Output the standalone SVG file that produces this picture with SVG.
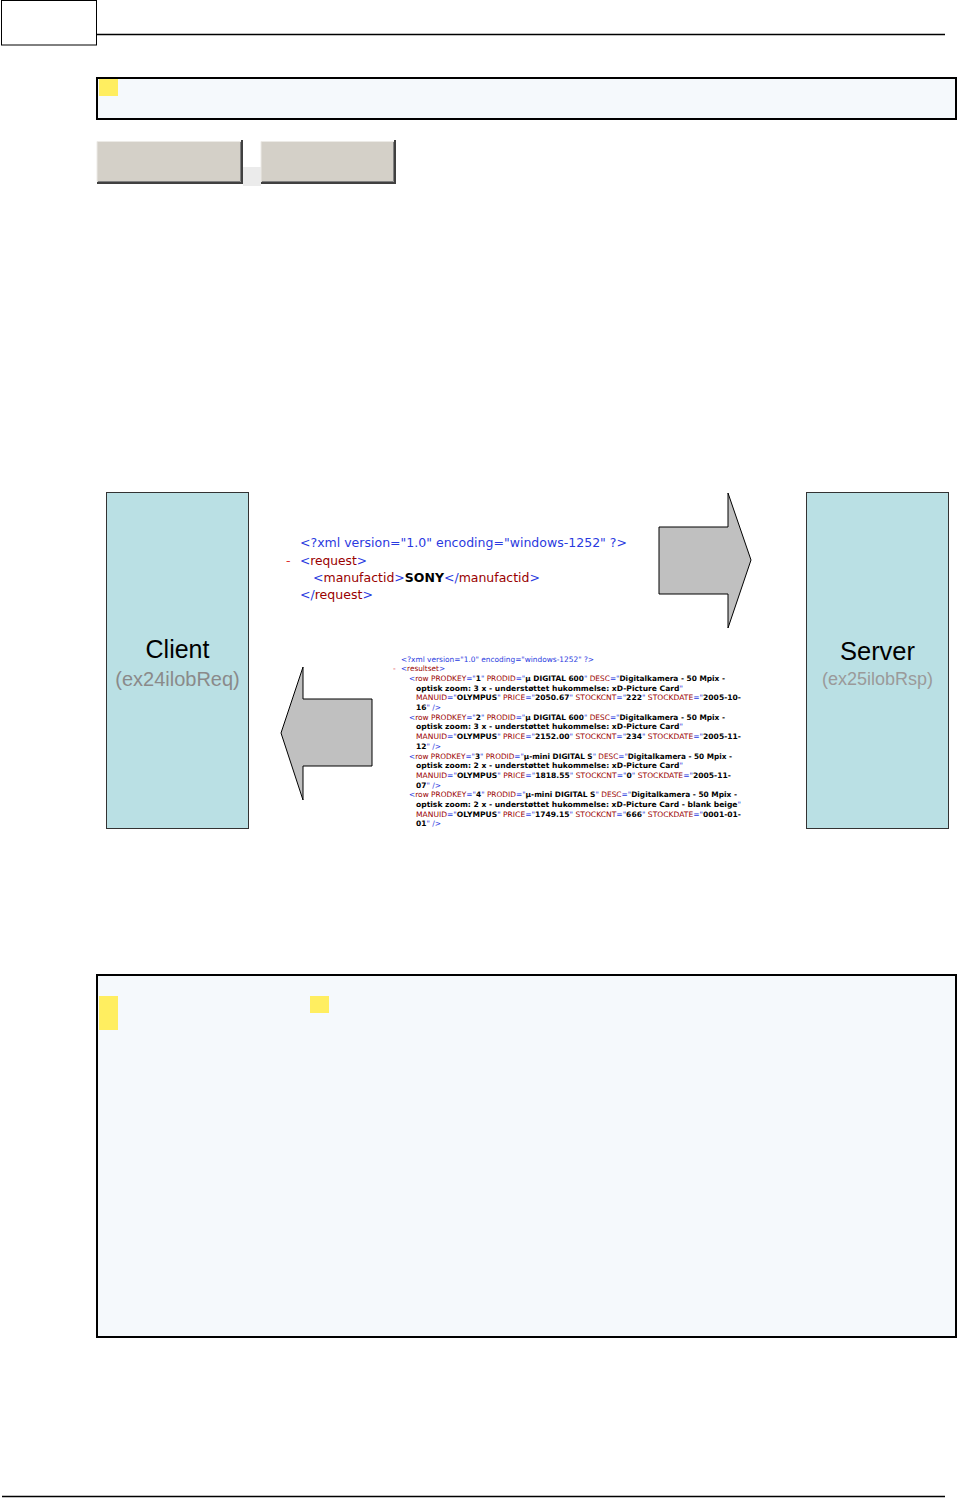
<svg xmlns="http://www.w3.org/2000/svg" width="966" height="1498" viewBox="0 0 966 1498">
<style>
.panel{fill:#F5F9FC;stroke:#000;stroke-width:2}
.hl{fill:#FFEE60}
.btn{fill:#D4D0C8}
.node{fill:#BAE0E4;stroke:#333;stroke-width:1}
.arrow{fill:#C0C0C0;stroke:#000;stroke-width:1;stroke-linejoin:miter}
.title{font-family:"Liberation Sans",Arial,sans-serif;fill:#000;text-anchor:middle}
.sub{font-family:"Liberation Sans",Arial,sans-serif;text-anchor:middle}
.xml{font-family:"DejaVu Sans",Verdana,sans-serif}
.b{fill:#2a3ae0}
.t{fill:#990000}
.x{fill:#000;font-weight:bold}
.d{fill:#e03030}
</style>
<rect width="966" height="1498" fill="#fff"/>
<g id="page-header">
<rect x="1.5" y="0.5" width="95" height="44.5" fill="#fff" stroke="#000" stroke-width="1"/>
<line x1="96" y1="34.5" x2="945" y2="34.5" stroke="#000" stroke-width="1.5"/>
</g>
<g id="top-box">
<rect class="panel" x="97" y="78" width="859" height="41"/>
<rect class="hl" x="99" y="79" width="19" height="17"/>
</g>
<g id="buttons">
<rect class="btn" x="97" y="141" width="145" height="41"/>
<path d="M97,181.5 V141.5 H241" fill="none" stroke="#ECEAE6" stroke-width="1"/>
<path d="M240.5,142 V181.5 H98" fill="none" stroke="#808080" stroke-width="1"/>
<path d="M242,140 V183 H97" fill="none" stroke="#404040" stroke-width="2"/>
<rect x="243" y="167" width="18" height="19" fill="#EBEBEB"/>
<rect class="btn" x="261" y="141" width="134" height="41"/>
<path d="M261,181.5 V141.5 H394" fill="none" stroke="#ECEAE6" stroke-width="1"/>
<path d="M393.5,142 V181.5 H262" fill="none" stroke="#808080" stroke-width="1"/>
<path d="M395,140 V183 H261" fill="none" stroke="#404040" stroke-width="2"/>
</g>
<g id="client">
<rect class="node" x="106.5" y="492.5" width="142" height="336"/>
<text class="title" x="177.5" y="658" font-size="25">Client</text>
<text class="sub" x="177.5" y="686" font-size="20" fill="#8a8a8a">(ex24ilobReq)</text>
</g>
<g id="server">
<rect class="node" x="806.5" y="492.5" width="142" height="336"/>
<text class="title" x="877.5" y="660" font-size="25.5">Server</text>
<text class="sub" x="877.5" y="685" font-size="18" fill="#9a9a9a">(ex25ilobRsp)</text>
</g>
<g id="connectors">
<polygon class="arrow" points="659,527 728,527 728,493 751,560 728,628 728,594 659,594"/>
<polygon class="arrow" points="372,699 303,699 303,667 281,733 303,800 303,766 372,766"/>
</g>
<g id="request-xml" class="xml" font-size="12.5">
<text x="300" y="547" textLength="327" lengthAdjust="spacingAndGlyphs" class="b">&lt;?xml version="1.0" encoding="windows-1252" ?&gt;</text>
<text x="286" y="564.5" class="d">-</text>
<text x="300" y="564.5" textLength="67" lengthAdjust="spacingAndGlyphs"><tspan class="b">&lt;</tspan><tspan class="t">request</tspan><tspan class="b">&gt;</tspan></text>
<text x="313" y="581.5" textLength="227" lengthAdjust="spacingAndGlyphs"><tspan class="b">&lt;</tspan><tspan class="t">manufactid</tspan><tspan class="b">&gt;</tspan><tspan class="x">SONY</tspan><tspan class="b">&lt;/</tspan><tspan class="t">manufactid</tspan><tspan class="b">&gt;</tspan></text>
<text x="300" y="598.5" textLength="73" lengthAdjust="spacingAndGlyphs"><tspan class="b">&lt;/</tspan><tspan class="t">request</tspan><tspan class="b">&gt;</tspan></text>
</g>
<g id="response-xml" class="xml" font-size="7.5">
<text x="401" y="661.5" textLength="193" lengthAdjust="spacingAndGlyphs" class="b">&lt;?xml version="1.0" encoding="windows-1252" ?&gt;</text>
<text x="393" y="671.2" class="d">-</text>
<text x="401" y="671.2" textLength="44" lengthAdjust="spacingAndGlyphs"><tspan class="b">&lt;</tspan><tspan class="t">resultset</tspan><tspan class="b">&gt;</tspan></text>

<text x="409" y="680.9" textLength="316" lengthAdjust="spacingAndGlyphs"><tspan class="b">&lt;</tspan><tspan class="t">row PRODKEY</tspan><tspan class="b">="</tspan><tspan class="x">1</tspan><tspan class="b">"</tspan><tspan class="t"> PRODID</tspan><tspan class="b">="</tspan><tspan class="x">µ DIGITAL 600</tspan><tspan class="b">"</tspan><tspan class="t"> DESC</tspan><tspan class="b">="</tspan><tspan class="x">Digitalkamera - 50 Mpix -</tspan></text>
<text x="416" y="690.6" textLength="267" lengthAdjust="spacingAndGlyphs"><tspan class="x">optisk zoom: 3 x - understøttet hukommelse: xD-Picture Card</tspan><tspan class="b">"</tspan></text>
<text x="416" y="700.3" textLength="325" lengthAdjust="spacingAndGlyphs"><tspan class="t">MANUID</tspan><tspan class="b">="</tspan><tspan class="x">OLYMPUS</tspan><tspan class="b">"</tspan><tspan class="t"> PRICE</tspan><tspan class="b">="</tspan><tspan class="x">2050.67</tspan><tspan class="b">"</tspan><tspan class="t"> STOCKCNT</tspan><tspan class="b">="</tspan><tspan class="x">222</tspan><tspan class="b">"</tspan><tspan class="t"> STOCKDATE</tspan><tspan class="b">="</tspan><tspan class="x">2005-10-</tspan></text>
<text x="416" y="710" textLength="25" lengthAdjust="spacingAndGlyphs"><tspan class="x">16</tspan><tspan class="b">" /&gt;</tspan></text>

<text x="409" y="719.7" textLength="316" lengthAdjust="spacingAndGlyphs"><tspan class="b">&lt;</tspan><tspan class="t">row PRODKEY</tspan><tspan class="b">="</tspan><tspan class="x">2</tspan><tspan class="b">"</tspan><tspan class="t"> PRODID</tspan><tspan class="b">="</tspan><tspan class="x">µ DIGITAL 600</tspan><tspan class="b">"</tspan><tspan class="t"> DESC</tspan><tspan class="b">="</tspan><tspan class="x">Digitalkamera - 50 Mpix -</tspan></text>
<text x="416" y="729.4" textLength="267" lengthAdjust="spacingAndGlyphs"><tspan class="x">optisk zoom: 3 x - understøttet hukommelse: xD-Picture Card</tspan><tspan class="b">"</tspan></text>
<text x="416" y="739.1" textLength="325" lengthAdjust="spacingAndGlyphs"><tspan class="t">MANUID</tspan><tspan class="b">="</tspan><tspan class="x">OLYMPUS</tspan><tspan class="b">"</tspan><tspan class="t"> PRICE</tspan><tspan class="b">="</tspan><tspan class="x">2152.00</tspan><tspan class="b">"</tspan><tspan class="t"> STOCKCNT</tspan><tspan class="b">="</tspan><tspan class="x">234</tspan><tspan class="b">"</tspan><tspan class="t"> STOCKDATE</tspan><tspan class="b">="</tspan><tspan class="x">2005-11-</tspan></text>
<text x="416" y="748.8" textLength="25" lengthAdjust="spacingAndGlyphs"><tspan class="x">12</tspan><tspan class="b">" /&gt;</tspan></text>

<text x="409" y="758.5" textLength="323" lengthAdjust="spacingAndGlyphs"><tspan class="b">&lt;</tspan><tspan class="t">row PRODKEY</tspan><tspan class="b">="</tspan><tspan class="x">3</tspan><tspan class="b">"</tspan><tspan class="t"> PRODID</tspan><tspan class="b">="</tspan><tspan class="x">µ-mini DIGITAL S</tspan><tspan class="b">"</tspan><tspan class="t"> DESC</tspan><tspan class="b">="</tspan><tspan class="x">Digitalkamera - 50 Mpix -</tspan></text>
<text x="416" y="768.2" textLength="267" lengthAdjust="spacingAndGlyphs"><tspan class="x">optisk zoom: 2 x - understøttet hukommelse: xD-Picture Card</tspan><tspan class="b">"</tspan></text>
<text x="416" y="777.9" textLength="315" lengthAdjust="spacingAndGlyphs"><tspan class="t">MANUID</tspan><tspan class="b">="</tspan><tspan class="x">OLYMPUS</tspan><tspan class="b">"</tspan><tspan class="t"> PRICE</tspan><tspan class="b">="</tspan><tspan class="x">1818.55</tspan><tspan class="b">"</tspan><tspan class="t"> STOCKCNT</tspan><tspan class="b">="</tspan><tspan class="x">0</tspan><tspan class="b">"</tspan><tspan class="t"> STOCKDATE</tspan><tspan class="b">="</tspan><tspan class="x">2005-11-</tspan></text>
<text x="416" y="787.6" textLength="25" lengthAdjust="spacingAndGlyphs"><tspan class="x">07</tspan><tspan class="b">" /&gt;</tspan></text>

<text x="409" y="797.3" textLength="328" lengthAdjust="spacingAndGlyphs"><tspan class="b">&lt;</tspan><tspan class="t">row PRODKEY</tspan><tspan class="b">="</tspan><tspan class="x">4</tspan><tspan class="b">"</tspan><tspan class="t"> PRODID</tspan><tspan class="b">="</tspan><tspan class="x">µ-mini DIGITAL S</tspan><tspan class="b">"</tspan><tspan class="t"> DESC</tspan><tspan class="b">="</tspan><tspan class="x">Digitalkamera - 50 Mpix -</tspan></text>
<text x="416" y="807" textLength="325" lengthAdjust="spacingAndGlyphs"><tspan class="x">optisk zoom: 2 x - understøttet hukommelse: xD-Picture Card - blank beige</tspan><tspan class="b">"</tspan></text>
<text x="416" y="816.7" textLength="325" lengthAdjust="spacingAndGlyphs"><tspan class="t">MANUID</tspan><tspan class="b">="</tspan><tspan class="x">OLYMPUS</tspan><tspan class="b">"</tspan><tspan class="t"> PRICE</tspan><tspan class="b">="</tspan><tspan class="x">1749.15</tspan><tspan class="b">"</tspan><tspan class="t"> STOCKCNT</tspan><tspan class="b">="</tspan><tspan class="x">666</tspan><tspan class="b">"</tspan><tspan class="t"> STOCKDATE</tspan><tspan class="b">="</tspan><tspan class="x">0001-01-</tspan></text>
<text x="416" y="826.4" textLength="25" lengthAdjust="spacingAndGlyphs"><tspan class="x">01</tspan><tspan class="b">" /&gt;</tspan></text>
</g>
<g id="bottom-box">
<rect class="panel" x="97" y="975" width="859" height="362"/>
<rect class="hl" x="99" y="996" width="19" height="34"/>
<rect class="hl" x="310" y="996" width="19" height="17"/>
</g>
<g id="page-footer">
<line x1="2" y1="1496.5" x2="945" y2="1496.5" stroke="#000" stroke-width="1.5"/>
</g>
</svg>
